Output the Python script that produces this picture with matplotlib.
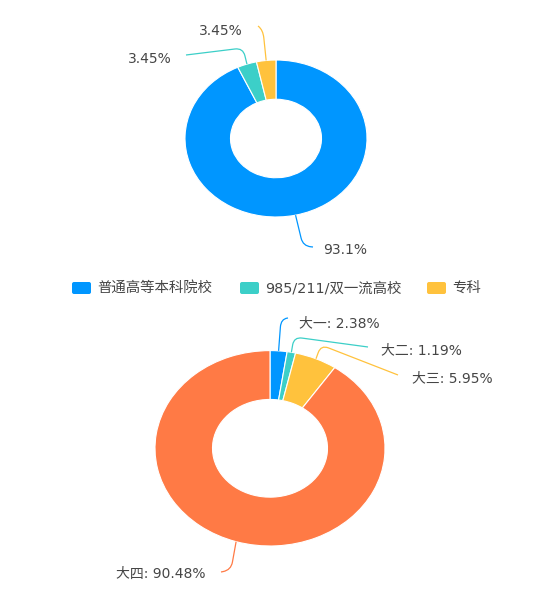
import numpy as np
import matplotlib.pyplot as plt
from matplotlib.path import Path
from matplotlib.patches import PathPatch, FancyBboxPatch

plt.rcParams['font.family'] = ['DejaVu Sans', 'Noto Sans CJK SC']

# 院校类型
school_types = ['普通高等本科院校', '985/211/双一流高校', '专科']
school_counts = [27, 1, 1]
school_colors = ['#0096ff', '#3ccfc8', '#ffc23d']

# 年级
grades = ['大一', '大二', '大三', '大四']
grade_counts = [2, 1, 5, 76]
grade_colors = ['#0096ff', '#3ccfc8', '#ffc23d', '#ff7a45']

W, H = 544, 595
TEXT = '#464646'
FS = 10

fig = plt.figure(figsize=(W / 100, H / 100), dpi=100)


def donut(cx, cy, rx, ry, values, colors):
    # the screenshot is stretched sideways, so the rings are ellipses
    ax = fig.add_axes([(cx - rx) / W, 1 - (cy + ry) / H, 2 * rx / W, 2 * ry / H])
    wedges, _ = ax.pie(values, colors=colors, startangle=90, counterclock=False,
                       radius=1, wedgeprops=dict(width=0.5, edgecolor='white', linewidth=0.8))
    for w in wedges:
        w.set_clip_on(False)
    ax.set_aspect('auto')
    ax.set_xlim(-1, 1)
    ax.set_ylim(-1, 1)
    ax.axis('off')
    return ax


ax_top = donut(276, 138.5, 91, 78.5, school_counts, school_colors)
ax_bot = donut(270, 448.3, 115, 97.7, grade_counts, grade_colors)

over = fig.add_axes([0, 0, 1, 1], zorder=5)
over.set_xlim(0, W)
over.set_ylim(H, 0)
over.axis('off')
over.patch.set_alpha(0)


def anchors(ax, values):
    total = sum(values)
    cum = np.cumsum([0] + list(values))
    pts = []
    for i in range(len(values)):
        mid = (cum[i] + cum[i + 1]) / 2 / total * 360
        phi = np.deg2rad(90 - mid)
        disp = ax.transData.transform((np.cos(phi), np.sin(phi)))
        pts.append(over.transData.inverted().transform(disp))
    return pts


def pct(v, total):
    return f"{round(v / total * 100, 2):g}%"


def leader(p0, elbow, end, color, r=8):
    p0, e, p2 = np.asarray(p0), np.asarray(elbow, float), np.asarray(end, float)
    a = e + (p0 - e) * min(0.9, r / np.linalg.norm(p0 - e))
    b = e + (p2 - e) * min(0.9, r / np.linalg.norm(p2 - e))
    verts = [p0, a, e, b, p2]
    codes = [Path.MOVETO, Path.LINETO, Path.CURVE3, Path.CURVE3, Path.LINETO]
    over.add_patch(PathPatch(Path(verts, codes), fc='none', ec=color, lw=0.9))


# top ring labels: (elbow, line end, text pos, ha)
top_layout = [
    ((303, 246), (313, 247), (323, 250), 'left'),
    ((243, 48), (186, 55), (172, 59), 'right'),
    ((263, 30), (258, 26), (243, 31), 'right'),
]
total = sum(school_counts)
for p0, v, c, (e, end, tp, ha) in zip(anchors(ax_top, school_counts), school_counts,
                                      school_colors, top_layout):
    leader(p0, e, end, c)
    over.text(tp[0], tp[1], pct(v, total), ha=ha, va='center', fontsize=FS, color=TEXT)

# bottom ring labels
bot_layout = [
    ((281, 319), (288, 318), (299, 323), 'left'),
    ((294, 337), (368, 347), (381, 350), 'left'),
    ((321, 345), (398, 375), (412, 378), 'left'),
    ((231, 570), (221, 572), (205, 574), 'right'),
]
total = sum(grade_counts)
for p0, name, v, c, (e, end, tp, ha) in zip(anchors(ax_bot, grade_counts), grades, grade_counts,
                                            grade_colors, bot_layout):
    leader(p0, e, end, c)
    over.text(tp[0], tp[1], f"{name}: {pct(v, total)}", ha=ha, va='center',
              fontsize=FS, color=TEXT)

# legend
leg_x = [72, 240, 427]
for x, name, c in zip(leg_x, school_types, school_colors):
    over.add_patch(FancyBboxPatch((x, 282), 19, 12, boxstyle='round,pad=0,rounding_size=2',
                                  fc=c, ec='none'))
    over.text(x + 25, 288, name, ha='left', va='center', fontsize=10.4, color=TEXT)

fig.savefig('out.png', dpi=100, facecolor='white')
